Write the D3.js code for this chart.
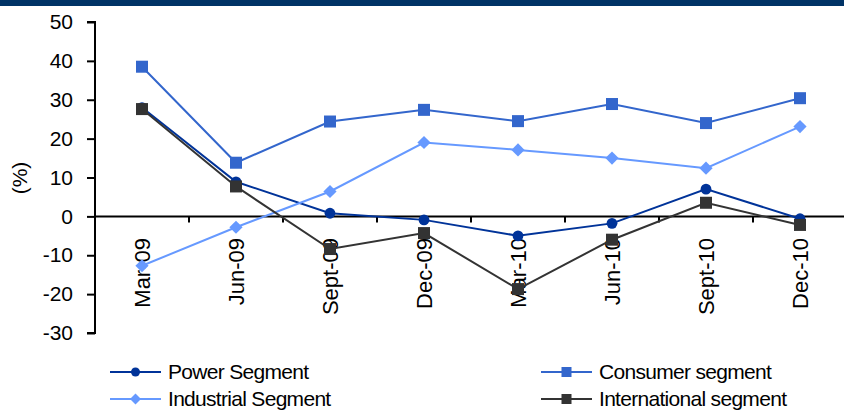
<!DOCTYPE html>
<html>
<head>
<meta charset="utf-8">
<script src="https://cdn.jsdelivr.net/npm/d3@7"></script>
<style>
  html, body { margin: 0; padding: 0; background: #fff; }
  svg { display: block; font-family: "Liberation Sans", Arial, sans-serif; }
</style>
</head>
<body>
<svg id="chart" width="844" height="412"></svg>
<script>
// Quarterly growth by segment (%)
const quarters = ["Mar-09", "Jun-09", "Sept-09", "Dec-09", "Mar-10", "Jun-10", "Sept-10", "Dec-10"];
const powerSegment = [28, 8.9, 0.8, -0.9, -5, -1.8, 7, -0.6];
const consumerSegment = [38.5, 13.8, 24.4, 27.4, 24.5, 28.9, 24, 30.4];
const industrialSegment = [-12.7, -2.8, 6.4, 19, 17.1, 15, 12.4, 23.1];
const internationalSegment = [27.6, 7.7, -8.4, -4.3, -18.7, -6, 3.5, -2.2];
const yTicks = [50, 40, 30, 20, 10, 0, -10, -20, -30];

const series = [
  { name: "Power Segment", values: powerSegment, color: "#003399", marker: "circle" },
  { name: "Consumer segment", values: consumerSegment, color: "#3366CC", marker: "square" },
  { name: "Industrial Segment", values: industrialSegment, color: "#6699FF", marker: "diamond" },
  { name: "International segment", values: internationalSegment, color: "#333333", marker: "square" }
];

const svg = d3.select("#chart");
const W = 844;
const FONT = 21;

// header band
svg.append("rect").attr("x", 0).attr("y", 0).attr("width", W).attr("height", 6).attr("fill", "#003366");

const x = d3.scaleBand().domain(quarters).range([95, 847]).padding(0);
const y = d3.scaleLinear().domain([-30, 50]).range([333, 22]);

// y axis (plain hyphen for negatives)
const yAxis = svg.append("g")
  .attr("transform", "translate(95,0)")
  .call(d3.axisLeft(y).tickValues(yTicks).tickSize(8).tickPadding(14).tickFormat(d => String(d)));
yAxis.select(".domain").attr("stroke", "#000").attr("stroke-width", 2).attr("d", `M-8,${y(50)}H0V${y(-30)}H-8`);
yAxis.selectAll(".tick line").attr("stroke", "#000").attr("stroke-width", 2);
yAxis.selectAll(".tick text").attr("font-size", FONT).attr("fill", "#000")
  .attr("font-family", "'Liberation Sans', Arial, sans-serif");

// y axis title
svg.append("text")
  .attr("transform", `translate(20,${178}) rotate(-90)`)
  .attr("text-anchor", "middle").attr("dy", "0.35em")
  .attr("font-size", FONT).attr("fill", "#000")
  .text("(%)");

// zero baseline with category ticks
svg.append("line").attr("x1", 95).attr("x2", W).attr("y1", y(0)).attr("y2", y(0))
  .attr("stroke", "#000").attr("stroke-width", 2);
svg.append("g").selectAll("line")
  .data(quarters.slice(1))
  .join("line")
  .attr("x1", d => x(d)).attr("x2", d => x(d))
  .attr("y1", y(0)).attr("y2", y(0) + 6)
  .attr("stroke", "#000").attr("stroke-width", 2);

// category labels, rotated
svg.append("g").selectAll("text")
  .data(quarters)
  .join("text")
  .attr("transform", d => `translate(${x(d) + x.bandwidth() / 2},238) rotate(-90)`)
  .attr("text-anchor", "end").attr("dy", "0.35em")
  .attr("font-size", 22).attr("fill", "#000")
  .text(d => d);

const cx = d => x(d) + x.bandwidth() / 2;
const line = d3.line().x((v, i) => cx(quarters[i])).y(v => y(v));

function drawMarker(g, type, color, size) {
  if (type === "circle") {
    g.append("circle").attr("r", size * 0.45).attr("fill", color);
  } else if (type === "square") {
    g.append("rect").attr("x", -size / 2).attr("y", -size / 2).attr("width", size).attr("height", size).attr("fill", color);
  } else {
    const h = size * 0.55;
    g.append("path").attr("d", `M0,${-h}L${h},0L0,${h}L${-h},0Z`).attr("fill", color);
  }
}

series.forEach(s => {
  const g = svg.append("g");
  g.append("path").datum(s.values).attr("d", line)
    .attr("fill", "none").attr("stroke", s.color).attr("stroke-width", 2);
  s.values.forEach((v, i) => {
    const m = g.append("g").attr("transform", `translate(${cx(quarters[i])},${y(v)})`);
    drawMarker(m, s.marker, s.color, 12);
  });
});

// legend
const legendPos = [
  { x: 110, y: 372 }, { x: 541, y: 372 },
  { x: 110, y: 399 }, { x: 541, y: 399 }
];
series.forEach((s, i) => {
  const p = legendPos[i];
  const g = svg.append("g").attr("transform", `translate(${p.x},${p.y})`);
  g.append("line").attr("x1", 0).attr("x2", 51).attr("y1", 0).attr("y2", 0)
    .attr("stroke", s.color).attr("stroke-width", 2);
  const m = g.append("g").attr("transform", "translate(25.5,0)");
  drawMarker(m, s.marker, s.color, 10);
  g.append("text").attr("x", 58).attr("y", 0).attr("dy", "0.35em")
    .attr("font-size", FONT).attr("fill", "#000").attr("letter-spacing", -0.7)
    .text(s.name);
});
</script>
</body>
</html>
